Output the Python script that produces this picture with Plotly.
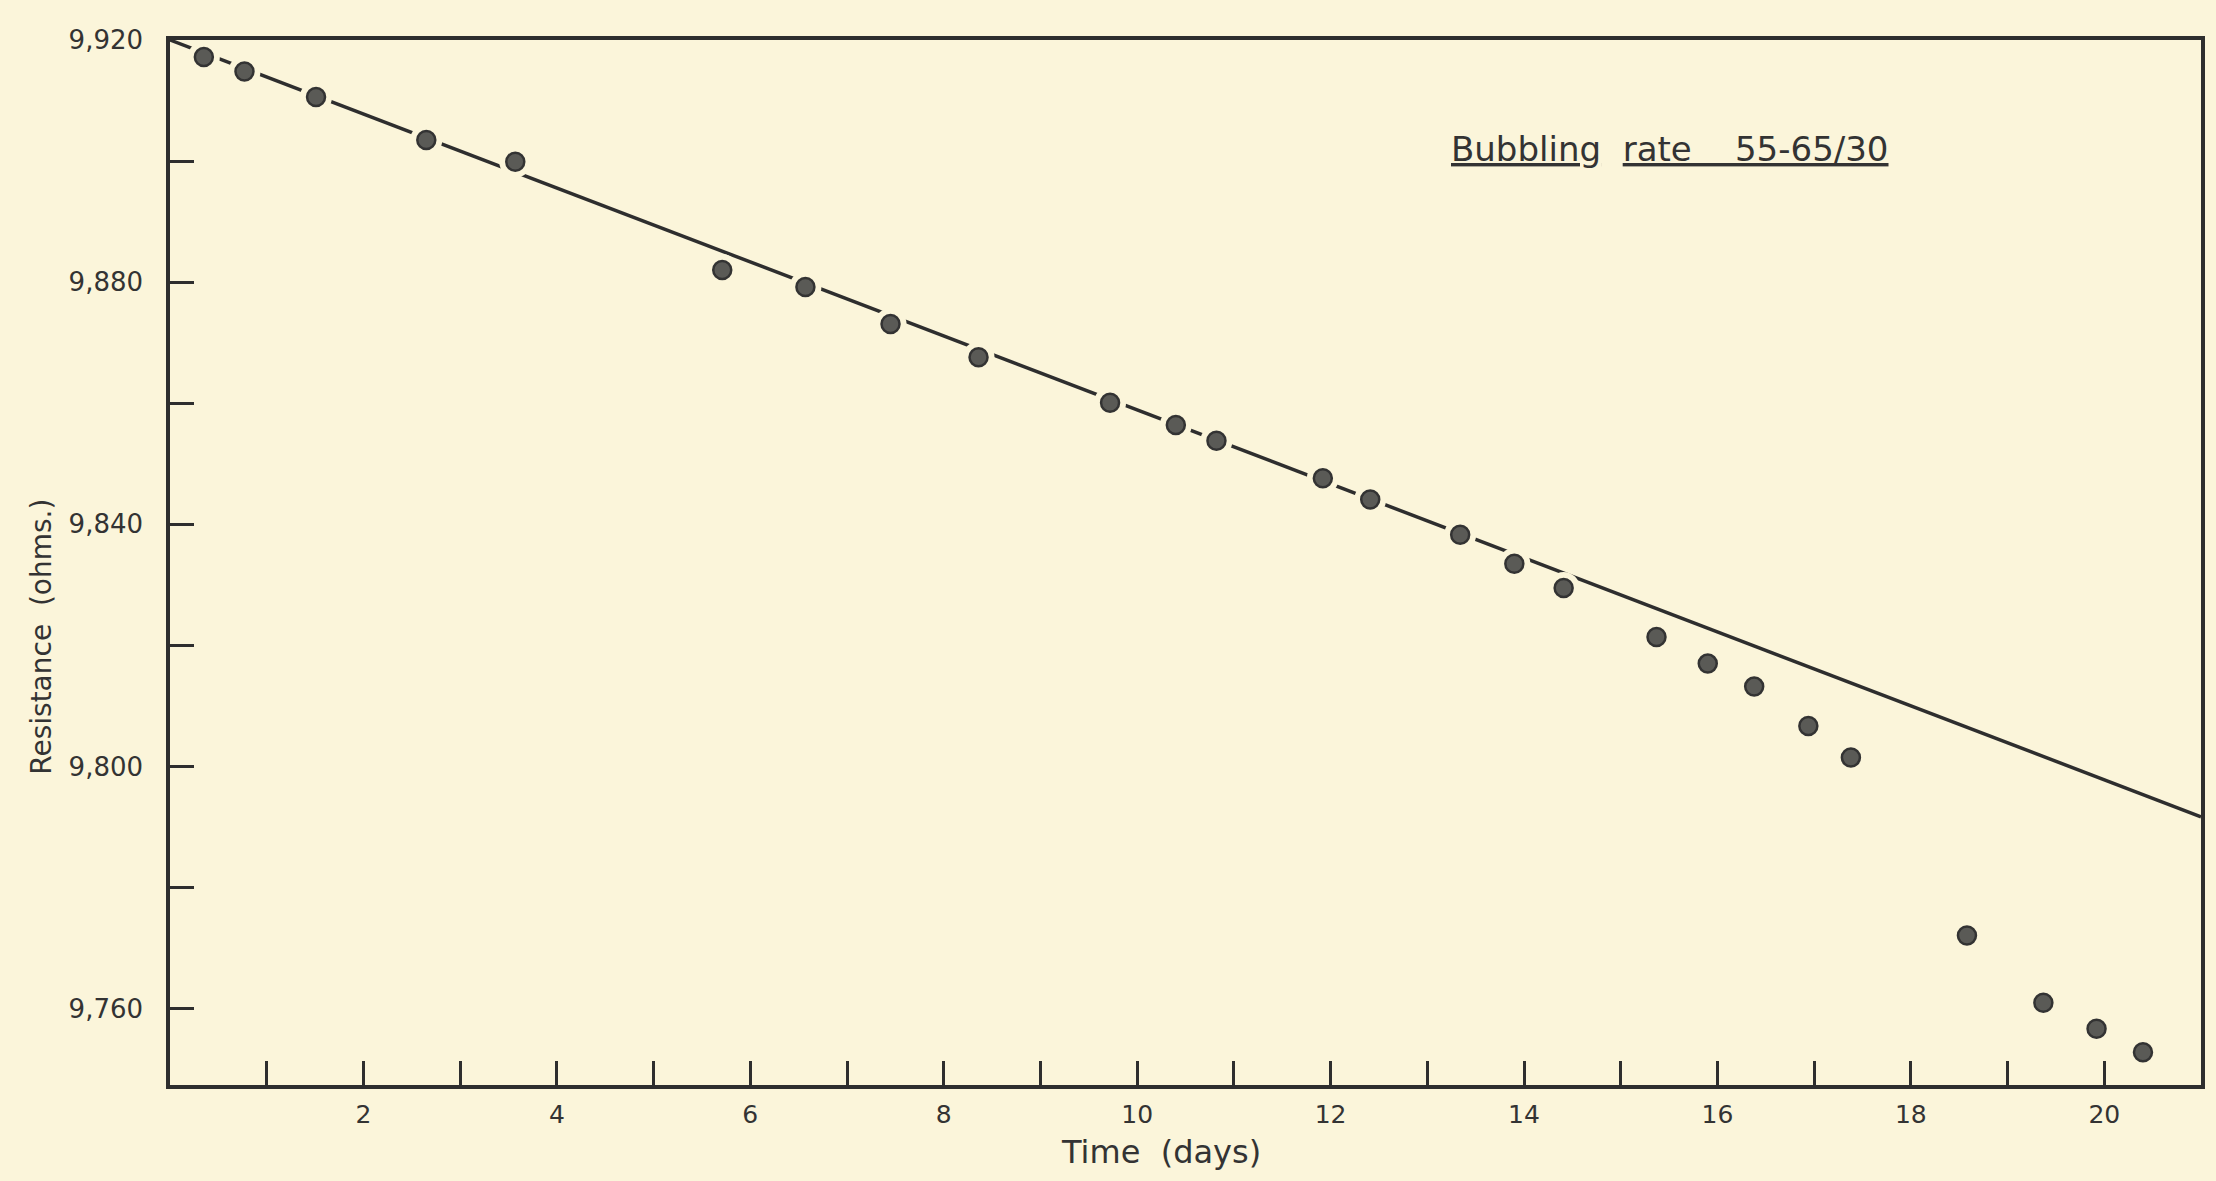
import plotly.graph_objects as go

# Measured points (time in days, resistance in ohms)
time_days = [0.35, 0.77, 1.51, 2.65, 3.57, 5.71, 6.57, 7.45, 8.36, 9.72,
             10.40, 10.82, 11.92, 12.41, 13.34, 13.90, 14.41, 15.37, 15.90,
             16.38, 16.94, 17.38, 18.58, 19.37, 19.92, 20.40]
resistance = [9917.2, 9914.8, 9910.6, 9903.5, 9899.9, 9882.0, 9879.2, 9873.1,
              9867.6, 9860.1, 9856.4, 9853.8, 9847.6, 9844.1, 9838.3, 9833.5,
              9829.5, 9821.4, 9817.0, 9813.2, 9806.7, 9801.5, 9772.1, 9761.0,
              9756.7, 9752.8]

# Straight reference line
fit_days = [0, 21]
fit_resistance = [9920, 9791.7]

# Tick labels
x_tick_vals = list(range(1, 21))
x_tick_text = [str(v) if v % 2 == 0 else "" for v in x_tick_vals]
y_tick_vals = [9760, 9780, 9800, 9820, 9840, 9860, 9880, 9900, 9920]
y_tick_text = ["9,760", "", "9,800", "", "9,840", "", "9,880", "", "9,920"]

BG = "#FBF5DA"
INK = "#2e2e2e"
TXT = "#333333"
FONT = "DejaVu Sans"

fig = go.Figure()

fig.add_trace(go.Scatter(
    x=fit_days, y=fit_resistance, mode="lines",
    line=dict(color=INK, width=3.5), hoverinfo="skip", showlegend=False,
))
# halo to break the line around each dot (as in the hand-drawn original)
fig.add_trace(go.Scatter(
    x=time_days, y=resistance, mode="markers",
    marker=dict(size=32, color=BG, line=dict(width=0)),
    hoverinfo="skip", showlegend=False,
))
fig.add_trace(go.Scatter(
    x=time_days, y=resistance, mode="markers",
    marker=dict(size=18, color="#5a5a56", line=dict(color="#333333", width=2.5)),
    showlegend=False, name="Resistance",
))

fig.update_layout(
    width=2216, height=1181,
    paper_bgcolor=BG, plot_bgcolor=BG,
    margin=dict(l=170, r=15, t=40, b=96),
    font=dict(family=FONT, color=TXT),
    showlegend=False,
)

fig.update_xaxes(
    range=[0, 21], tickvals=x_tick_vals, ticktext=x_tick_text,
    ticks="inside", ticklen=24, tickwidth=3, tickcolor=INK,
    showline=True, linewidth=3.5, linecolor=INK, mirror=True,
    showgrid=False, zeroline=False,
    tickfont=dict(size=25, color=TXT), ticklabelstandoff=4,
)
fig.update_yaxes(
    range=[9747.4, 9920], tickvals=y_tick_vals, ticktext=y_tick_text,
    ticks="inside", ticklen=24, tickwidth=3, tickcolor=INK,
    showline=True, linewidth=3.5, linecolor=INK, mirror=True,
    showgrid=False, zeroline=False,
    tickfont=dict(size=26, color=TXT), ticklabelstandoff=18,
)

fig.add_annotation(
    x=-0.063, y=0.429, xref="paper", yref="paper",
    text="Resistance\u00a0\u00a0(ohms.)", textangle=-90, showarrow=False,
    font=dict(size=28, color=TXT), xanchor="center", yanchor="middle",
)
fig.add_annotation(
    x=0.488, y=-0.064, xref="paper", yref="paper",
    text="Time\u00a0\u00a0(days)", showarrow=False,
    font=dict(size=32, color=TXT), xanchor="center", yanchor="middle",
)
fig.add_annotation(
    x=15.51, y=9902, xref="x", yref="y",
    text="<u>Bubbling</u>\u00a0\u00a0<u>rate\u00a0\u00a0\u00a0\u00a055-65/30</u>",
    showarrow=False, font=dict(size=34, color=TXT),
    xanchor="center", yanchor="middle",
)

fig.write_html(
    "out.html",
    config={"displayModeBar": False},
    post_script="document.body.style.margin='0';document.body.style.background='" + BG + "';",
)
